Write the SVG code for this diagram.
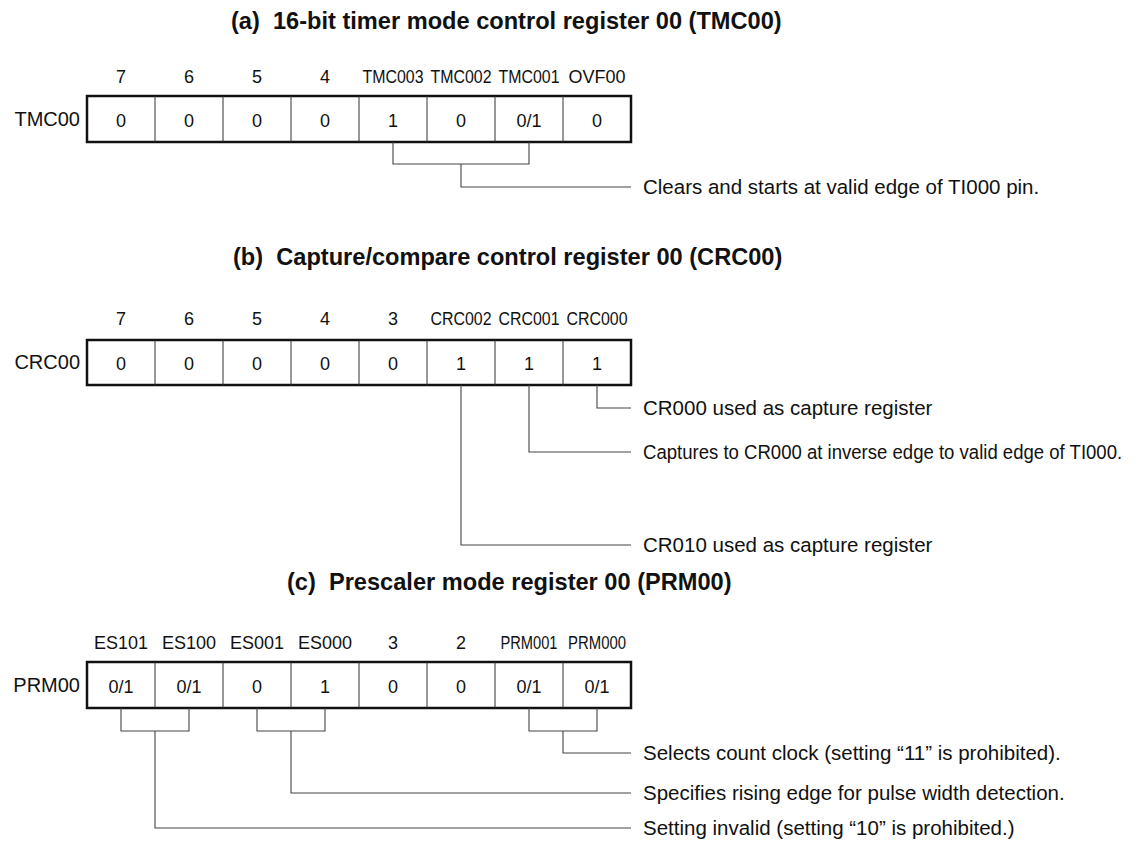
<svg xmlns="http://www.w3.org/2000/svg" width="1138" height="848" viewBox="0 0 1138 848">
<style>
.t{font-family:"Liberation Sans",Arial,sans-serif;font-weight:bold;font-size:23.6px;fill:#111;white-space:pre}
.b{font-family:"Liberation Sans",Arial,sans-serif;font-size:18px;fill:#111;text-anchor:middle}
.v{font-family:"Liberation Sans",Arial,sans-serif;font-size:18px;fill:#111;text-anchor:middle}
.r{font-family:"Liberation Sans",Arial,sans-serif;font-size:20px;fill:#111;text-anchor:end}
.d{font-family:"Liberation Sans",Arial,sans-serif;font-size:20.5px;fill:#111}
.box{fill:#fff;stroke:#111;stroke-width:2.5}
.div{stroke:#333;stroke-width:1}
.c{fill:none;stroke:#444;stroke-width:1.1}
</style>
<rect width="1138" height="848" fill="#fff"/>

<g id="regA">
<text class="t" x="231" y="29" xml:space="preserve">(a)  16-bit timer mode control register 00 (TMC00)</text>
<text class="b" x="121" y="83">7</text>
<text class="b" x="189" y="83">6</text>
<text class="b" x="257" y="83">5</text>
<text class="b" x="325" y="83">4</text>
<text class="b" x="393" y="83" textLength="61" lengthAdjust="spacingAndGlyphs">TMC003</text>
<text class="b" x="461" y="83" textLength="61" lengthAdjust="spacingAndGlyphs">TMC002</text>
<text class="b" x="529" y="83" textLength="61" lengthAdjust="spacingAndGlyphs">TMC001</text>
<text class="b" x="597" y="83">OVF00</text>
<text class="r" x="80" y="126">TMC00</text>
<rect class="box" x="87" y="96" width="544" height="46"/>
<path class="div" d="M155 96V142M223 96V142M291 96V142M359 96V142M427 96V142M495 96V142M563 96V142"/>
<text class="v" x="121" y="127">0</text>
<text class="v" x="189" y="127">0</text>
<text class="v" x="257" y="127">0</text>
<text class="v" x="325" y="127">0</text>
<text class="v" x="393" y="127">1</text>
<text class="v" x="461" y="127">0</text>
<text class="v" x="529" y="127">0/1</text>
<text class="v" x="597" y="127">0</text>
<text class="d" x="643" y="194">Clears and starts at valid edge of TI000 pin.</text>
</g>

<g id="regB">
<text class="t" x="233" y="265" xml:space="preserve">(b)  Capture/compare control register 00 (CRC00)</text>
<text class="b" x="121" y="325">7</text>
<text class="b" x="189" y="325">6</text>
<text class="b" x="257" y="325">5</text>
<text class="b" x="325" y="325">4</text>
<text class="b" x="393" y="325">3</text>
<text class="b" x="461" y="325" textLength="61" lengthAdjust="spacingAndGlyphs">CRC002</text>
<text class="b" x="529" y="325" textLength="61" lengthAdjust="spacingAndGlyphs">CRC001</text>
<text class="b" x="597" y="325" textLength="61" lengthAdjust="spacingAndGlyphs">CRC000</text>
<text class="r" x="80" y="369">CRC00</text>
<rect class="box" x="87" y="340" width="544" height="45"/>
<path class="div" d="M155 340V385M223 340V385M291 340V385M359 340V385M427 340V385M495 340V385M563 340V385"/>
<text class="v" x="121" y="370">0</text>
<text class="v" x="189" y="370">0</text>
<text class="v" x="257" y="370">0</text>
<text class="v" x="325" y="370">0</text>
<text class="v" x="393" y="370">0</text>
<text class="v" x="461" y="370">1</text>
<text class="v" x="529" y="370">1</text>
<text class="v" x="597" y="370">1</text>
<text class="d" x="643" y="415">CR000 used as capture register</text>
<text class="d" transform="translate(643 459) scale(0.905 1)">Captures to CR000 at inverse edge to valid edge of TI000.</text>
<text class="d" x="643" y="552">CR010 used as capture register</text>
</g>

<g id="regC">
<text class="t" x="287" y="590" xml:space="preserve">(c)  Prescaler mode register 00 (PRM00)</text>
<text class="b" x="121" y="649">ES101</text>
<text class="b" x="189" y="649">ES100</text>
<text class="b" x="257" y="649">ES001</text>
<text class="b" x="325" y="649">ES000</text>
<text class="b" x="393" y="649">3</text>
<text class="b" x="461" y="649">2</text>
<text class="b" x="529" y="649" textLength="57" lengthAdjust="spacingAndGlyphs">PRM001</text>
<text class="b" x="597" y="649" textLength="58" lengthAdjust="spacingAndGlyphs">PRM000</text>
<text class="r" x="80" y="692">PRM00</text>
<rect class="box" x="87" y="662" width="544" height="46"/>
<path class="div" d="M155 662V708M223 662V708M291 662V708M359 662V708M427 662V708M495 662V708M563 662V708"/>
<text class="v" x="121" y="693">0/1</text>
<text class="v" x="189" y="693">0/1</text>
<text class="v" x="257" y="693">0</text>
<text class="v" x="325" y="693">1</text>
<text class="v" x="393" y="693">0</text>
<text class="v" x="461" y="693">0</text>
<text class="v" x="529" y="693">0/1</text>
<text class="v" x="597" y="693">0/1</text>
<text class="d" x="643" y="760">Selects count clock (setting “11” is prohibited).</text>
<text class="d" x="643" y="800">Specifies rising edge for pulse width detection.</text>
<text class="d" x="643" y="835">Setting invalid (setting “10” is prohibited.)</text>
</g>

<g id="connectors">
<path class="c" d="M393 142V164H529V142M461 164V187H631"/>
<path class="c" d="M597 385V408H631"/>
<path class="c" d="M529 385V452H631"/>
<path class="c" d="M461 385V545H631"/>
<path class="c" d="M121 708V731H189V708M155 731V828H631"/>
<path class="c" d="M257 708V731H325V708M291 731V793H631"/>
<path class="c" d="M529 708V731H597V708M563 731V753H631"/>
</g>
</svg>
